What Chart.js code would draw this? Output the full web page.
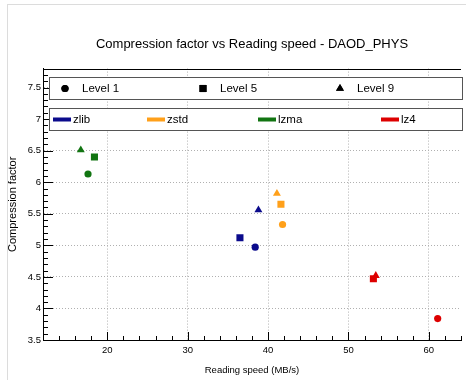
<!DOCTYPE html>
<html>
<head>
<meta charset="utf-8">
<title>Compression factor vs Reading speed - DAOD_PHYS</title>
<script src="https://cdn.jsdelivr.net/npm/chart.js@4.4.0/dist/chart.umd.min.js"></script>
<style>
	html, body { margin: 0; padding: 0; background: #fff; overflow: hidden; }
	#wrap { position: relative; width: 466px; height: 380px; }
	#edge { position: absolute; left: 7px; top: 4px; right: 0; bottom: 0; border-left: 1px solid #dcdcdc; border-top: 1px solid #dcdcdc; }
	#chart { position: absolute; left: 0; top: 0; }
</style>
</head>
<body>
<div id="wrap">
	<div id="edge"></div>
	<canvas id="chart" width="466" height="380"></canvas>
</div>
<script>
// 圧縮アルゴリズム
var compressors = ['zlib', 'zstd', 'lzma', 'lz4'];
// 圧縮レベル (Level 1, 5, 9 の順)
var levels = ['Level 1', 'Level 5', 'Level 9'];

// 読み込み速度 (MB/s)
var zlibSpeed = [38.4, 36.5, 38.8];
var zstdSpeed = [41.8, 41.6, 41.1];
var lzmaSpeed = [17.6, 18.4, 16.7];
var lz4Speed  = [61.1, 53.1, 53.4];

// 圧縮率
var zlibFactor = [4.97, 5.12, 5.56];
var zstdFactor = [5.33, 5.65, 5.82];
var lzmaFactor = [6.13, 6.40, 6.51];
var lz4Factor  = [3.84, 4.47, 4.52];

// 目盛り
var xTicks = [20, 30, 40, 50, 60];
var yTicks = [3.5, 4, 4.5, 5, 5.5, 6, 6.5, 7, 7.5];

var speeds = [zlibSpeed, zstdSpeed, lzmaSpeed, lz4Speed];
var factors = [zlibFactor, zstdFactor, lzmaFactor, lz4Factor];
var colors = ['#0b0b8c', '#ffa01a', '#127512', '#dd0000'];
var markers = ['circle', 'rect', 'triangle'];
var markerSize = [3.6, 5, 4.6];

var sans = "'Liberation Sans', Arial, sans-serif";
Chart.defaults.font.family = sans;
Chart.defaults.color = '#000';

var datasets = compressors.map(function(name, i) {
	return {
		label: name,
		data: speeds[i].map(function(s, j) { return { x: s, y: factors[i][j] }; }),
		pointStyle: markers,
		pointRadius: markerSize,
		pointBackgroundColor: colors[i],
		pointBorderColor: colors[i],
		pointBorderWidth: 0,
		showLine: false
	};
});

// 枠線と小目盛り
var frame = {
	id: 'frame',
	beforeDatasetsDraw: function(chart) {
		var ctx = chart.ctx, a = chart.chartArea, xs = chart.scales.x, ys = chart.scales.y;
		var v, px, py, len;
		ctx.save();
		ctx.strokeStyle = '#000';
		ctx.lineWidth = 1;
		ctx.beginPath();
		ctx.moveTo(a.left, Math.round(a.top) + 0.5);
		ctx.lineTo(a.right, Math.round(a.top) + 0.5);
		for (v = Math.ceil(xs.min / 2) * 2; v <= xs.max; v += 2) {
			px = Math.round(xs.getPixelForValue(v)) + 0.5;
			len = (v % 10 === 0) ? 8 : 4;
			ctx.moveTo(px, a.bottom);
			ctx.lineTo(px, a.bottom - len);
		}
		for (v = Math.round(ys.min * 10); v <= Math.round(ys.max * 10); v++) {
			py = Math.round(ys.getPixelForValue(v / 10)) + 0.5;
			len = (v % 5 === 0) ? 10 : 5;
			ctx.moveTo(a.left, py);
			ctx.lineTo(a.left + len, py);
		}
		ctx.stroke();
		ctx.restore();
	}
};

// 凡例 (2段の枠)
var boxLegend = {
	id: 'boxLegend',
	afterDatasetsDraw: function(chart) {
		var ctx = chart.ctx;
		var left = 49, right = 462;
		ctx.save();
		ctx.fillStyle = '#fff';
		ctx.strokeStyle = '#555';
		ctx.lineWidth = 1;
		[[77, 99], [108, 130]].forEach(function(b) {
			ctx.fillRect(left, b[0], right - left, b[1] - b[0]);
			ctx.strokeRect(left + 0.5, b[0] + 0.5, right - left, b[1] - b[0]);
		});
		ctx.font = '11.5px ' + sans;
		ctx.textBaseline = 'middle';
		ctx.textAlign = 'left';
		var levelX = [65, 203, 340];
		levels.forEach(function(name, i) {
			ctx.fillStyle = '#000';
			Chart.helpers.drawPoint(ctx, { pointStyle: markers[i], radius: markerSize[i], rotation: 0, borderWidth: 0 }, levelX[i], 88.5);
			ctx.fill();
			ctx.fillText(name, levelX[i] + 17, 89);
		});
		var compX = [53, 147, 258, 381];
		compressors.forEach(function(name, i) {
			ctx.fillStyle = colors[i];
			ctx.fillRect(compX[i], 117.5, 18, 4);
			ctx.fillStyle = '#000';
			ctx.fillText(name, compX[i] + 20, 119.5);
		});
		ctx.restore();
	}
};

var plainNumber = function(value) { return String(value); };

new Chart(document.getElementById('chart').getContext('2d'), {
	type: 'scatter',
	data: { datasets: datasets },
	plugins: [frame, boxLegend],
	options: {
		responsive: false,
		animation: false,
		layout: { padding: 0 },
		plugins: {
			legend: { display: false },
			tooltip: { enabled: false },
			title: {
				display: true,
				text: 'Compression factor vs Reading speed - DAOD_PHYS',
				fullSize: false,
				color: '#000',
				font: { size: 13, weight: 'normal' },
				padding: { top: 37, bottom: 16 }
			}
		},
		scales: {
			x: {
				type: 'linear',
				min: 12,
				max: 64,
				afterBuildTicks: function(scale) {
					scale.ticks = xTicks.map(function(v) { return { value: v }; });
				},
				afterFit: function(scale) {
					scale.height = 40;
					scale.paddingLeft = 0;
					scale.paddingRight = 0;
				},
				grid: { color: '#b0b0b0', lineWidth: 1, drawTicks: false },
				border: { color: '#000', width: 1, dash: [1, 2] },
				ticks: { font: { size: 9.5 }, padding: 5, maxRotation: 0, callback: plainNumber },
				title: {
					display: true,
					text: 'Reading speed (MB/s)',
					font: { size: 9.5 },
					padding: { top: 0, bottom: 4 }
				}
			},
			y: {
				type: 'linear',
				min: 3.5,
				max: 7.8,
				afterBuildTicks: function(scale) {
					scale.ticks = yTicks.map(function(v) { return { value: v }; });
				},
				afterFit: function(scale) {
					scale.width = 43;
				},
				grid: { color: '#b0b0b0', lineWidth: 1, drawTicks: false },
				border: { color: '#000', width: 1, dash: [1, 2] },
				ticks: { font: { size: 9.5 }, padding: 2, callback: plainNumber },
				title: {
					display: true,
					text: 'Compression factor',
					font: { size: 11 },
					padding: { top: 6, bottom: 0 }
				}
			}
		}
	}
});
</script>
</body>
</html>
